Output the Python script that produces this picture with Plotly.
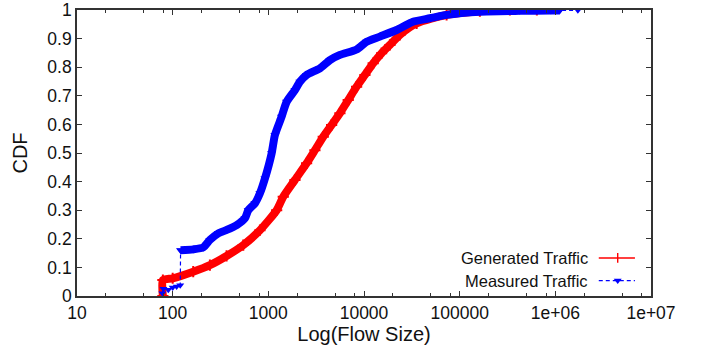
import plotly.graph_objects as go

# ---- data ----
gen_x = [79, 79, 100, 164, 245, 366, 547, 817, 1222, 1432, 1897, 2512, 3069, 3750, 4586,
         5600, 6839, 8370, 10220, 12480, 15270, 18660, 23700, 35480, 73000, 162600,
         335000, 641000]
gen_y = [0.0, 0.056, 0.062, 0.085, 0.108, 0.14, 0.178, 0.23, 0.30, 0.347, 0.406, 0.464,
         0.51, 0.557, 0.598, 0.639, 0.685, 0.732, 0.773, 0.814, 0.849, 0.878, 0.913,
         0.953, 0.983, 0.996, 1.0, 1.0]

meas_x = [78, 80, 90, 100, 110, 120, 121, 164, 209, 245, 300, 367, 467, 570, 617, 724,
          817, 922, 1083, 1172, 1377, 1553, 1897, 2138, 2513, 3461, 4403, 5600, 8370,
          10650, 14660, 21910, 32430, 48850, 73000, 162600, 425000, 900000, 1110000,
          1720000]
meas_y = [0.01, 0.025, 0.022, 0.03, 0.033, 0.038, 0.16, 0.163, 0.17, 0.196, 0.219, 0.231,
          0.248, 0.272, 0.30, 0.324, 0.359, 0.411, 0.499, 0.563, 0.627, 0.679, 0.72,
          0.749, 0.773, 0.796, 0.825, 0.843, 0.862, 0.889, 0.907, 0.93, 0.959, 0.971,
          0.983, 0.994, 0.997, 0.998, 0.998, 0.999]
STEP = 6  # index where the measured curve jumps

x_tickvals = [10, 100, 1000, 10000, 100000, 1e6, 1e7]
x_ticktext = ["10", "100", "1000", "10000", "100000", "1e+06", "1e+07"]
y_tickvals = [0, 0.1, 0.2, 0.3, 0.4, 0.5, 0.6, 0.7, 0.8, 0.9, 1]
y_ticktext = ["0", "0.1", "0.2", "0.3", "0.4", "0.5", "0.6", "0.7", "0.8", "0.9", "1"]
minor_vals = [m * 10 ** e for e in range(1, 7) for m in (2, 5, 8)]

series_names = ["Generated Traffic", "Measured Traffic"]

RED = "#ff0000"
BLUE = "#0000ff"
FONT = "Liberation Sans, Arial, sans-serif"
DASH = "4px,3px"

fig = go.Figure()

# Generated traffic: thick band of '+' markers
fig.add_trace(go.Scatter(x=gen_x, y=gen_y, mode="lines+markers",
                         line=dict(color=RED, width=8, shape="spline", smoothing=0.6),
                         marker=dict(symbol="cross-thin", size=8, color=RED,
                                     line=dict(color=RED, width=2)),
                         showlegend=False))

# Measured traffic: thin dashed line with triangles through all points
fig.add_trace(go.Scatter(x=meas_x, y=meas_y, mode="lines+markers",
                         line=dict(color=BLUE, width=1.2, dash=DASH),
                         marker=dict(symbol="triangle-down", size=7, color=BLUE),
                         showlegend=False))
# Measured traffic: dense band after the jump
fig.add_trace(go.Scatter(x=meas_x[STEP:-1], y=meas_y[STEP:-1], mode="lines+markers",
                         line=dict(color=BLUE, width=8, shape="spline", smoothing=0.6),
                         marker=dict(symbol="triangle-down", size=8, color=BLUE),
                         showlegend=False))

# ---- custom legend (text on the left, sample on the right) ----
leg_y = [0.133, 0.054]
leg_text_x = 0.894
fig.add_trace(go.Scatter(x=[0.909, 0.972], y=[leg_y[0]] * 2, mode="lines",
                         line=dict(color=RED, width=1.4), xaxis="x2", yaxis="y2",
                         showlegend=False, hoverinfo="skip"))
fig.add_trace(go.Scatter(x=[0.942], y=[leg_y[0]], mode="markers",
                         marker=dict(symbol="line-ns", size=7, color=RED,
                                     line=dict(color=RED, width=1.4)),
                         xaxis="x2", yaxis="y2", showlegend=False, hoverinfo="skip"))
fig.add_trace(go.Scatter(x=[0.909, 0.972], y=[leg_y[1]] * 2, mode="lines",
                         line=dict(color=BLUE, width=1.2, dash=DASH), xaxis="x2", yaxis="y2",
                         showlegend=False, hoverinfo="skip"))
fig.add_trace(go.Scatter(x=[0.942], y=[leg_y[1]], mode="markers",
                         marker=dict(symbol="triangle-down", size=7, color=BLUE),
                         xaxis="x2", yaxis="y2", showlegend=False, hoverinfo="skip"))
for name, yy in zip(series_names, leg_y):
    fig.add_annotation(x=leg_text_x, y=yy, xref="paper", yref="paper", text=name,
                       showarrow=False, xanchor="right", yanchor="middle",
                       font=dict(family=FONT, size=16.5, color="#111"))

axis_common = dict(showgrid=False, zeroline=False, showline=True, linecolor="#333",
                   linewidth=1.6, mirror="ticks", ticks="inside", tickcolor="#333",
                   tickwidth=1.3, automargin=False,
                   tickfont=dict(family=FONT, size=17.5, color="#111"))

fig.update_layout(
    width=704, height=345,
    margin=dict(l=77, r=53, t=10, b=49),
    paper_bgcolor="white", plot_bgcolor="white",
    font=dict(family=FONT, color="#111"),
    xaxis=dict(type="log", range=[1, 7], tickmode="array", tickvals=x_tickvals,
               ticktext=x_ticktext, ticklen=5,
               minor=dict(tickmode="array", tickvals=minor_vals, ticklen=3,
                          ticks="inside", tickcolor="#333", tickwidth=1.2),
               title=dict(text="Log(Flow Size)", font=dict(family=FONT, size=20, color="#111"),
                          standoff=1),
               **axis_common),
    yaxis=dict(range=[0, 1], tickmode="array", tickvals=y_tickvals, ticktext=y_ticktext,
               ticklen=5,
               title=dict(text="CDF", font=dict(family=FONT, size=20, color="#111"),
                          standoff=14),
               **axis_common),
    xaxis2=dict(overlaying="x", range=[0, 1], visible=False, domain=[0, 1]),
    yaxis2=dict(overlaying="y", range=[0, 1], visible=False),
)

fig.write_html("out.html")
